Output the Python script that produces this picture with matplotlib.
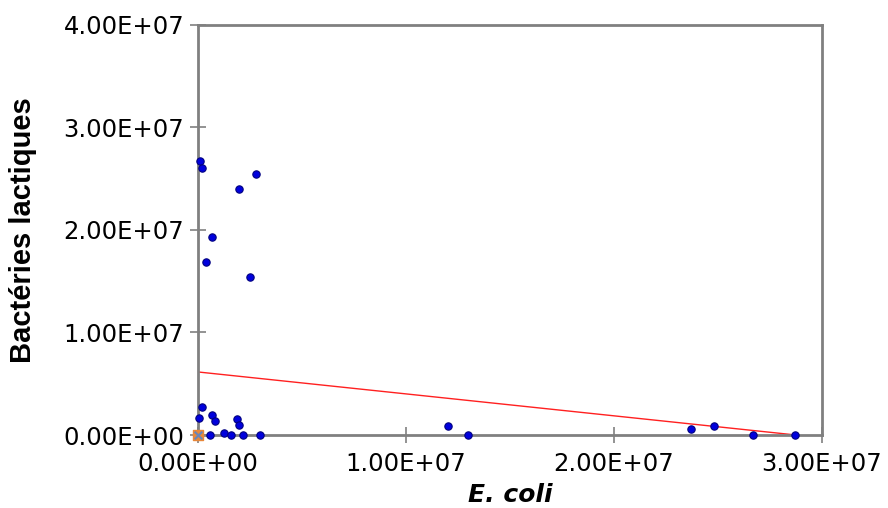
import numpy as np
import matplotlib
matplotlib.use('Agg')
import matplotlib.pyplot as plt

# E. coli vs bacteries lactiques
ecoli = [1e5, 2e5, 2.8e6, 1.97e6, 6.6e5, 3.8e5, 2.5e6,
         2e5, 6e4, 6.6e5, 8.3e5, 1.86e6, 1.99e6, 5.8e5, 1.25e6, 1.6e6, 2.15e6, 3.0e6,
         1.2e7, 1.3e7, 2.37e7, 2.48e7, 2.67e7, 2.87e7]
lactiques = [2.67e7, 2.6e7, 2.55e7, 2.4e7, 1.93e7, 1.69e7, 1.54e7,
             2.7e6, 1.7e6, 2.0e6, 1.4e6, 1.56e6, 9.8e5, 0, 2e5, 0, 0, 0,
             8.8e5, 0, 5.5e5, 8.8e5, 0, 0]

# second series: a single point at the origin
origin_x = [0]
origin_y = [0]

# linear trend line (intercept, slope)
trend_intercept = 6.15e6
trend_slope = -0.214

fig = plt.figure(figsize=(8.88, 5.08), dpi=100)
ax = fig.add_axes([0.223, 0.1437, 0.7027, 0.8071])

tx = np.array([0, max(ecoli)])
ax.plot(tx, trend_intercept + trend_slope * tx, color='#FF2020', lw=1.0, zorder=2)

ax.scatter(origin_x, origin_y, marker='s', s=45, color='#E8883A', zorder=3, clip_on=False)
ax.scatter(origin_x, origin_y, marker='x', s=30, color='#6A86B8', lw=1.5, zorder=4, clip_on=False)
ax.scatter(ecoli, lactiques, s=28, color='#0000DD', edgecolors='#000080', linewidths=0.8,
           zorder=5, clip_on=False)

ax.set_xlim(0, 3e7)
ax.set_ylim(0, 4e7)
ax.set_xticks([0, 1e7, 2e7, 3e7])
ax.set_yticks([0, 1e7, 2e7, 3e7, 4e7])
ax.set_xticklabels(['0.00E+00', '1.00E+07', '2.00E+07', '3.00E+07'])
ax.set_yticklabels(['0.00E+00', '1.00E+07', '2.00E+07', '3.00E+07', '4.00E+07'])

for s in ax.spines.values():
    s.set_color('#808080')
    s.set_linewidth(2)
ax.tick_params(direction='inout', length=12, width=1.2, color='#808080',
               labelsize=17.5, labelcolor='black', pad=4)
ax.tick_params(axis='x', pad=6)

ax.set_ylabel('Bactéries lactiques', fontsize=21, fontweight='bold',
              family=['Liberation Sans', 'DejaVu Sans'])
ax.yaxis.set_label_coords(-0.258, 0.5)
ax.set_xlabel('E. coli', fontsize=18, fontweight='bold', style='italic')
ax.xaxis.set_label_coords(0.5, -0.118)

fig.savefig('out.png', dpi=100)
